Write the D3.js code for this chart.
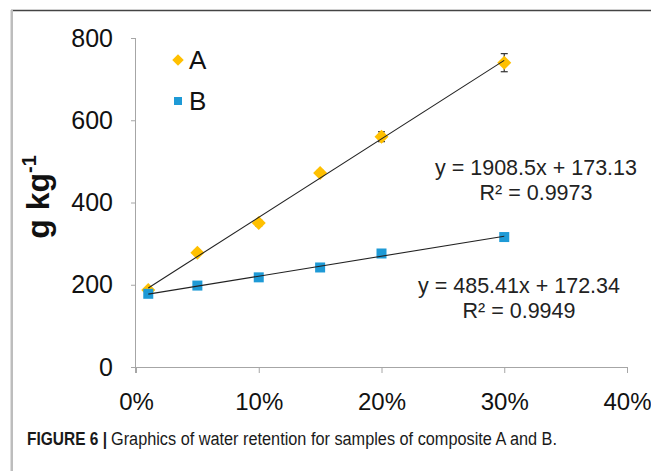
<!DOCTYPE html>
<html><head><meta charset="utf-8">
<script src="https://cdn.jsdelivr.net/npm/d3@7"></script>
<style>html,body{margin:0;padding:0;background:#fff;}svg{display:block;}</style>
</head><body>
<svg id="c" width="651" height="471"></svg>
<script>
const xValues = [0.01, 0.05, 0.10, 0.15, 0.20, 0.30];
const seriesA = [187, 278, 350, 472, 560, 740];
const errorA  = [4, 6, 7, 6, 12, 22];
const seriesB = [178, 198, 218, 242, 276, 316];
const trendA = {slope: 1908.5, intercept: 173.13, label: "y = 1908.5x + 173.13", r2: "R² = 0.9973"};
const trendB = {slope: 485.41, intercept: 172.34, label: "y = 485.41x + 172.34", r2: "R² = 0.9949"};
const yTicks = [0, 200, 400, 600, 800];
const xTicks = [0, 0.1, 0.2, 0.3, 0.4];
const legendNames = ["A", "B"];
const caption = ["FIGURE 6 |", "Graphics of water retention for samples of composite A and B."];

const colA = "#FFC000", colB = "#1E9AD6", axisCol = "#a6a6a6";
const font = "Liberation Sans, Arial, sans-serif";
const svg = d3.select("#c");

// frame
svg.append("line").attr("x1", 11).attr("x2", 651).attr("y1", 10.5).attr("y2", 10.5).attr("stroke", "#444").attr("stroke-width", 1.5);
svg.append("rect").attr("x", 10.5).attr("y", 10).attr("width", 2.5).attr("height", 461).attr("fill", "#bdbdbd");

const x = d3.scaleLinear().domain([0, 0.4]).range([136, 627]);
const y = d3.scaleLinear().domain([0, 800]).range([367, 38]);

// y axis
const ya = svg.append("g").attr("transform", `translate(${x(0)},0)`)
  .call(d3.axisLeft(y).tickValues(yTicks).tickSize(5).tickPadding(18).tickFormat(d3.format("d")));
ya.select(".domain").attr("stroke", axisCol).attr("d", `M-0.5,${y(800)}V${y(0)+6}`);
ya.selectAll(".tick line").attr("stroke", axisCol);
ya.selectAll(".tick text").attr("font-family", font).attr("font-size", 25).attr("fill", "#111");

// x axis
const xa = svg.append("g").attr("transform", `translate(0,${y(0)})`)
  .call(d3.axisBottom(x).tickValues(xTicks).tickSize(6).tickPadding(20).tickFormat(d3.format(".0%")));
xa.select(".domain").attr("stroke", axisCol).attr("d", `M${x(0)-5},0.5H${x(0.4)}`);
xa.selectAll(".tick line").attr("stroke", axisCol);
xa.selectAll(".tick text").attr("font-family", font).attr("font-size", 24).attr("fill", "#111");

// y title
const yt = svg.append("text").attr("transform", "translate(49,197) rotate(-90)")
  .attr("text-anchor", "middle").attr("font-family", font).attr("font-weight", "bold").attr("font-size", 32).attr("fill", "#111");
yt.append("tspan").text("g kg");
yt.append("tspan").attr("font-size", 20).attr("dy", -13).text("-1");

const ptsA = xValues.map((v, i) => ({x: v, y: seriesA[i], e: errorA[i]}));
const ptsB = xValues.map((v, i) => ({x: v, y: seriesB[i]}));

// error bars A
const eb = svg.append("g").attr("stroke", "#333").attr("stroke-width", 1.2);
ptsA.forEach(p => {
  eb.append("line").attr("x1", x(p.x)).attr("x2", x(p.x)).attr("y1", y(p.y + p.e)).attr("y2", y(p.y - p.e));
  [p.y + p.e, p.y - p.e].forEach(v => eb.append("line").attr("x1", x(p.x) - 3.5).attr("x2", x(p.x) + 3.5).attr("y1", y(v)).attr("y2", y(v)));
});

// markers
const diamond = d3.symbol().type(d3.symbolDiamond2).size(125);
svg.append("g").selectAll("path").data(ptsA).join("path")
  .attr("d", diamond).attr("transform", d => `translate(${x(d.x)},${y(d.y)})`).attr("fill", colA);
svg.append("g").selectAll("rect").data(ptsB).join("rect")
  .attr("x", d => x(d.x) - 5).attr("y", d => y(d.y) - 5).attr("width", 10).attr("height", 10).attr("fill", colB);

// trend lines
[trendA, trendB].forEach(t => {
  const x0 = xValues[0], x1 = xValues[xValues.length - 1];
  svg.append("line").attr("x1", x(x0)).attr("y1", y(t.slope * x0 + t.intercept))
    .attr("x2", x(x1)).attr("y2", y(t.slope * x1 + t.intercept)).attr("stroke", "#222").attr("stroke-width", 1.1);
});

// equations
function eq(t, cx, by) {
  const g = svg.append("g").attr("font-family", font).attr("font-size", 21.5).attr("fill", "#222").attr("text-anchor", "middle");
  g.append("text").attr("x", cx).attr("y", by).text(t.label);
  g.append("text").attr("x", cx).attr("y", by + 25).text(t.r2);
}
eq(trendA, 536, 175);
eq(trendB, 519, 293);

// legend
const lg = svg.append("g").attr("font-family", font).attr("font-size", 26).attr("fill", "#111");
lg.append("path").attr("d", d3.symbol().type(d3.symbolDiamond2).size(85)).attr("transform", "translate(178,60)").attr("fill", colA);
lg.append("text").attr("x", 189).attr("y", 69).text(legendNames[0]);
lg.append("rect").attr("x", 174).attr("y", 97).attr("width", 8).attr("height", 8).attr("fill", colB);
lg.append("text").attr("x", 189).attr("y", 110).text(legendNames[1]);

// caption
svg.append("text").attr("x", 27).attr("y", 445).attr("font-family", font).attr("font-size", 18).attr("font-weight", "bold")
  .attr("fill", "#1a1a1a").attr("textLength", 80).attr("lengthAdjust", "spacingAndGlyphs").text(caption[0]);
svg.append("text").attr("x", 111).attr("y", 445).attr("font-family", font).attr("font-size", 18)
  .attr("fill", "#1a1a1a").attr("textLength", 446).attr("lengthAdjust", "spacingAndGlyphs").text(caption[1]);
</script>
</body></html>
